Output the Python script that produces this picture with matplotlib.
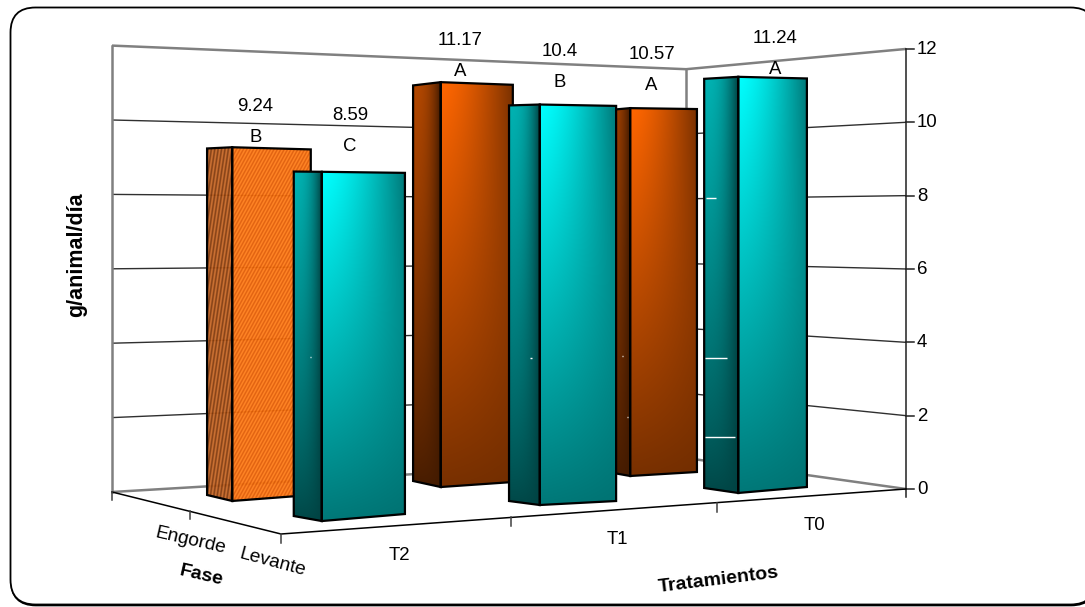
import numpy as np
import matplotlib
matplotlib.use('Agg')
import matplotlib.pyplot as plt
from matplotlib.patches import FancyBboxPatch, Polygon

plt.rcParams['font.family'] = ['Liberation Sans', 'DejaVu Sans']

tratamientos = ['T2', 'T1', 'T0']
fases = ['Levante', 'Engorde']
engorde = [9.24, 11.17, 10.57]
levante = [8.59, 10.4, 11.24]
letras_engorde = ['B', 'A', 'A']
letras_levante = ['C', 'B', 'A']
y_ticks = [0, 2, 4, 6, 8, 10, 12]

Z_MAX = 12

# floor corners in pixels: front-left, front-right, back-left, back-right
FLOOR = np.array([[281, 534], [906, 489], [112, 492], [686, 458]], float)
# pixels per unit of value at the same four corners
SCALE = [42.2, 36.67, 37.2, 32.4]

# footprint of each bar on the floor as (u, v) points: front-left, front-right, back-left
BOX_LEVANTE = [((0.102, 0.167), (0.230, 0.189), (0.095, 0.289)),
               ((0.437, 0.183), (0.553, 0.159), (0.426, 0.297)),
               ((0.759, 0.150), (0.893, 0.173), (0.756, 0.293))]
BOX_ENGORDE = [((0.099, 0.653), (0.225, 0.674), (0.100, 0.810)),
               ((0.434, 0.670), (0.560, 0.680), (0.440, 0.841)),
               ((0.759, 0.650), (0.882, 0.645), (0.764, 0.805))]

# label offset from the top of each bar (dx, dy of the letter)
OFFSET_ENGORDE = [(-5, -11), (-2, -13), (4, -24)]
OFFSET_LEVANTE = [(-4, -26), (-4, -23), (16, -9)]

ORANGE = np.array([255, 102, 0]) / 255
TEAL = np.array([0, 255, 255]) / 255


def floor_matrix():
    A, b = [], []
    for (u, v), (x, y) in zip([(0, 0), (1, 0), (0, 1), (1, 1)], FLOOR):
        A.append([u, v, 1, 0, 0, 0, -u * x, -v * x])
        b.append(x)
        A.append([0, 0, 0, u, v, 1, -u * y, -v * y])
        b.append(y)
    return np.append(np.linalg.solve(np.array(A), np.array(b)), 1).reshape(3, 3)


H = floor_matrix()


def project(u, v, z=0.0):
    x, y, w = H @ np.array([u, v, 1.0])
    s = (SCALE[0] * (1 - u) * (1 - v) + SCALE[1] * u * (1 - v)
         + SCALE[2] * (1 - u) * v + SCALE[3] * u * v)
    s -= 1.7 * u * (1 - u)
    return x / w, y / w - z * s


def front_level(s, t):
    left = 0.47 + 0.53 * t
    right = 0.45 + 0.08 * np.sin(np.pi * t) + 0.02 * t
    return right + (left - right) * (1 - s ** 1.5)


def side_level(s, t):
    left = 0.28 + 0.42 * t ** 0.8
    right = 0.26
    return right + (left - right) * (1 - s ** 2.5)


def face_pixels(corners):
    (x0, yb0), (x1, yb1), (_, yt1), (_, yt0) = corners
    xmin, xmax = int(np.floor(x0)) - 1, int(np.ceil(x1)) + 1
    ymin, ymax = int(np.floor(min(yt0, yt1))) - 1, int(np.ceil(max(yb0, yb1))) + 1
    xx, yy = np.meshgrid(np.arange(xmin, xmax) + 0.5, np.arange(ymin, ymax) + 0.5)
    s = np.clip((xx - x0) / (x1 - x0), 0, 1)
    bottom = yb0 + (yb1 - yb0) * s
    top = yt0 + (yt1 - yt0) * s
    t = np.clip((bottom - yy) / (bottom - top), 0, 1)
    return xx, yy, s, t, (xmin, xmax, ymax, ymin)


def draw_face(ax, corners, base, level, zorder):
    _, _, s, t, extent = face_pixels(corners)
    rgb = np.clip(level(s, t)[..., None] * base, 0, 1)
    im = ax.imshow(rgb, extent=extent, aspect='auto', zorder=zorder, interpolation='bilinear')
    poly = Polygon(corners, closed=True, fc='none', ec='black', lw=1.6, zorder=zorder + 0.1,
                   joinstyle='miter')
    ax.add_patch(poly)
    im.set_clip_path(poly)


def draw_hatched_face(ax, corners, light, dark, slope, zorder):
    xx, yy, _, _, extent = face_pixels(corners)
    stripes = (np.sin((xx + slope * yy) * 2 * np.pi / 3.4) + 1) / 2
    rgb = np.array(dark) + stripes[..., None] * (np.array(light) - np.array(dark))
    im = ax.imshow(rgb / 255, extent=extent, aspect='auto', zorder=zorder, alpha=0.95,
                   interpolation='bilinear')
    poly = Polygon(corners, closed=True, fc='none', ec='black', lw=1.6, zorder=zorder + 0.1,
                   joinstyle='miter')
    ax.add_patch(poly)
    im.set_clip_path(poly)


def bar_faces(box, value):
    fl, fr, bl = box
    side = [project(*bl), project(*fl), project(*fl, value), project(*bl, value)]
    front = [project(*fl), project(*fr), project(*fr, value), project(*fl, value)]
    return side, front


def draw_bar(ax, box, value, base, zorder, hatched=False):
    side, front = bar_faces(box, value)
    if hatched:
        draw_hatched_face(ax, side, (200, 105, 40), (130, 58, 12), 0.15, zorder)
        draw_hatched_face(ax, front, (255, 125, 25), (225, 92, 5), 0.55, zorder)
    else:
        draw_face(ax, side, base, side_level, zorder)
        draw_face(ax, front, base, front_level, zorder)


def draw_labels(ax, box, value, letter, offset):
    fl, fr, bl = box
    x, y = project((fl[0] + fr[0]) / 2, (fl[1] + bl[1]) / 2, value)
    x, y = x + offset[0], y + offset[1]
    ax.text(x, y, letter, ha='center', va='center', fontsize=13.4, zorder=40)
    ax.text(x, y - 31, f'{value:g}', ha='center', va='center', fontsize=13.4, zorder=40)


def draw_walls(ax):
    bl, br, fr = (0, 1), (1, 1), (1, 0)
    for z in y_ticks:
        edge = z in (0, Z_MAX)
        color, lw = ('#808080', 1.8) if edge else ('#303030', 1.0)
        pts = [project(*bl, z), project(*br, z), project(*fr, z)]
        ax.plot(*zip(*pts), color=color, lw=lw, zorder=2, solid_capstyle='butt')
    for c in (bl, br):
        ax.plot(*zip(project(*c, 0), project(*c, Z_MAX)), color='#808080', lw=1.8, zorder=2)


def draw_axes(ax):
    # value axis on the right
    x_r, y0 = project(1, 0, 0)
    _, y12 = project(1, 0, Z_MAX)
    ax.plot([x_r, x_r], [y12, y0 + 8], color='#202020', lw=1.1, zorder=30)
    for z in y_ticks:
        x, y = project(1, 0, z)
        ax.plot([x, x + 8], [y, y], color='#202020', lw=1.1, zorder=30)
        ax.text(x + 11, y + 0.5, str(z), ha='left', va='center', fontsize=13.4, zorder=40)

    # floor front and left edges with their ticks
    ax.plot(*zip(project(0, 1), project(0, 0), project(1, 0)), color='black', lw=1.1, zorder=30)
    for u in (0, 0.33, 0.662):
        x, y = project(u, 0)
        ax.plot([x, x], [y, y + 9], color='#404040', lw=1.1, zorder=30)
    for v in (0.5, 1):
        x, y = project(0, v)
        ax.plot([x, x], [y, y + 8], color='#404040', lw=1.1, zorder=30)


fig = plt.figure(figsize=(10.85, 6.07), dpi=100)
ax = fig.add_axes([0, 0, 1, 1])
ax.set_axis_off()

# rounded frame with a faint offset edge along the bottom
ax.add_patch(FancyBboxPatch((11, 8.5), 1085, 597, boxstyle='round,pad=0,rounding_size=25',
                            fc='black', ec='black', lw=1.2, zorder=0))
ax.add_patch(FancyBboxPatch((10.5, 7.5), 1085, 597, boxstyle='round,pad=0,rounding_size=25',
                            fc='white', ec='black', lw=1.3, zorder=0.5))

draw_walls(ax)

for i, value in enumerate(engorde):
    draw_bar(ax, BOX_ENGORDE[i], value, ORANGE, 5 + i, hatched=i == 0)
for i, value in enumerate(levante):
    draw_bar(ax, BOX_LEVANTE[i], value, TEAL, 10 + i)

for i in range(3):
    draw_labels(ax, BOX_ENGORDE[i], engorde[i], letras_engorde[i], OFFSET_ENGORDE[i])
    draw_labels(ax, BOX_LEVANTE[i], levante[i], letras_levante[i], OFFSET_LEVANTE[i])

draw_axes(ax)

# stray light specks over the bars
for x0, x1, y in [(706, 716, 197.5), (705, 727, 357.5), (705, 735, 436.5),
                  (310, 311, 356.5), (530, 532, 357.5), (622, 623, 355.5), (627, 628, 416.5)]:
    ax.plot([x0, x1], [y, y], color='white', lw=1, zorder=35, solid_capstyle='butt')

for label, x, y in zip(tratamientos, [399, 617, 814], [555, 539, 526]):
    ax.text(x, y, label, ha='center', va='center', fontsize=13.4, zorder=40)
ax.text(190, 541, fases[1], ha='center', va='center', rotation=-13, fontsize=13.8, zorder=40)
ax.text(272, 562, fases[0], ha='center', va='center', rotation=-15, fontsize=13.8, zorder=40)

ax.text(77, 255, 'g/animal/día', ha='center', va='center', rotation=90, fontsize=15.5,
        fontweight='bold', zorder=40)
ax.text(201, 576, 'Fase', ha='center', va='center', rotation=-13, fontsize=14,
        fontweight='bold', zorder=40)
ax.text(718, 580, 'Tratamientos', ha='center', va='center', rotation=7, fontsize=14,
        fontweight='bold', zorder=40)

ax.set_xlim(0, 1085)
ax.set_ylim(607, 0)

fig.savefig('out.png', dpi=100)
